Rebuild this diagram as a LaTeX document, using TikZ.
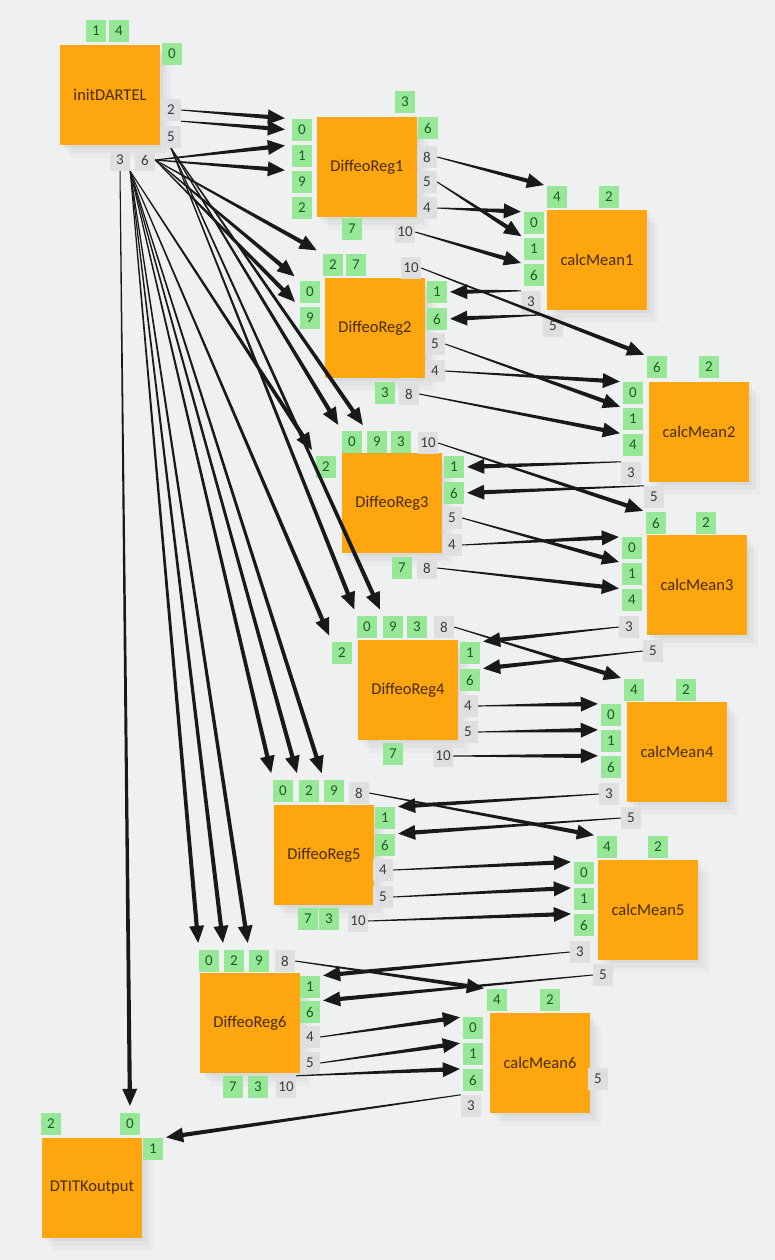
\documentclass[tikz,border=0pt]{standalone}
\usepackage{fontspec}
\setmainfont{Carlito}
\usetikzlibrary{calc,shadows}
\definecolor{modorange}{RGB}{253,166,15}
\definecolor{portgreen}{RGB}{150,232,150}
\definecolor{portgray}{RGB}{222,223,225}
\definecolor{bgcol}{RGB}{238,240,242}
\definecolor{modtext}{RGB}{72,44,0}
\definecolor{greentext}{RGB}{30,90,40}
\definecolor{graytext}{RGB}{60,60,60}
\begin{document}
\begin{tikzpicture}[x=1pt,y=-1pt,
  modbox/.style={fill=modorange,minimum size=100pt,inner sep=0pt,text=modtext,font=\fontsize{16.5}{18}\selectfont,
    drop shadow={shadow xshift=3pt,shadow yshift=-3pt,opacity=.08},
    drop shadow={shadow xshift=7pt,shadow yshift=-8pt,opacity=.07},
    drop shadow={shadow xshift=11pt,shadow yshift=-13pt,opacity=.05}},
  inport/.style={fill=portgreen,text=greentext,minimum width=20pt,minimum height=22pt,inner sep=0pt,font=\fontsize{15}{17}\selectfont},
  outport/.style={inport,fill=portgray,text=graytext},
  % tapered connector with its head, tip set back by #1
  wire/.style={fill=black!90,to path={let \p1=(\tikztostart),\p2=(\tikztotarget),\n1={atan2(\y2-\y1,\x2-\x1)},
      \p3=($(\p2)!#1!(\p1)$),\p4=($(\p3)!17pt!(\p1)$) in
      ([shift={(\n1+90:.5pt)}]\p1) -- ([shift={(\n1+90:2.1pt)}]\p4) -- ([shift={(\n1+90:7.5pt)}]\p4) -- (\p3)
      -- ([shift={(\n1-90:7.5pt)}]\p4) -- ([shift={(\n1-90:2.1pt)}]\p4) -- ([shift={(\n1-90:.5pt)}]\p1) -- cycle}},
  wire/.default=3pt,
  fan/.style={wire=7pt}]
\useasboundingbox (0,0) rectangle (775,1260);
\fill[bgcol] (0,0) rectangle (775,1260);
% modules
\node[modbox] (init) at (110,95) {initDARTEL};
\node[modbox] (dr1) at (367,167) {DiffeoReg1};
\node[modbox] (cm1) at (597,260) {calcMean1};
\node[modbox] (dr2) at (375,328) {DiffeoReg2};
\node[modbox] (cm2) at (699,432) {calcMean2};
\node[modbox] (dr3) at (392,503) {DiffeoReg3};
\node[modbox] (cm3) at (697,585) {calcMean3};
\node[modbox] (dr4) at (408,690) {DiffeoReg4};
\node[modbox] (cm4) at (677,752) {calcMean4};
\node[modbox] (dr5) at (324,855) {DiffeoReg5};
\node[modbox] (cm5) at (648,910) {calcMean5};
\node[modbox] (dr6) at (250,1023) {DiffeoReg6};
\node[modbox] (cm6) at (540,1063) {calcMean6};
\node[modbox] (dtitk) at (92,1188) {DTITKoutput};
% ports of initDARTEL
\node[inport] (i1) at (96,31) {1}; \node[inport] (i4) at (119,31) {4}; \node[inport] (i0) at (172,54) {0};
\node[outport] (i2) at (171,110) {2}; \node[outport] (i5) at (171,137) {5};
\node[outport] (i3) at (120,160) {3}; \node[outport] (i6) at (145,160) {6};
% ports of DiffeoReg1 and calcMean1
\node[inport] (d1p0) at (302,130) {0}; \node[inport] (d1p1) at (302,156) {1};
\node[inport] (d1p9) at (302,182) {9}; \node[inport] (d1p2) at (302,208) {2};
\node[inport] (d1p3) at (405,102) {3}; \node[inport] (d1p6) at (428,128) {6};
\node[outport] (d1p8) at (427,157) {8}; \node[outport] (d1p5) at (427,182) {5}; \node[outport] (d1p4) at (427,208) {4};
\node[inport] (d1p7) at (352,229) {7}; \node[outport] (d1p10) at (405,232) {10};
\node[inport] (c1p4) at (557,197) {4}; \node[inport] (c1p2) at (609,197) {2};
\node[inport] (c1p0) at (534,223) {0}; \node[inport] (c1p1) at (534,249) {1}; \node[inport] (c1p6) at (534,275) {6};
\node[outport] (c1p3) at (531,302) {3}; \node[outport] (c1p5) at (553,326) {5};
% ports of DiffeoReg2 and calcMean2
\node[inport] (d2p2) at (333,265) {2}; \node[inport] (d2p7) at (356,265) {7}; \node[outport] (d2p10) at (411,268) {10};
\node[inport] (d2p0) at (310,292) {0}; \node[inport] (d2p9) at (310,318) {9};
\node[inport] (d2p1) at (437,292) {1}; \node[inport] (d2p6) at (437,319) {6};
\node[outport] (d2p5) at (435,344) {5}; \node[outport] (d2p4) at (435,371) {4};
\node[inport] (d2p3) at (385,393) {3}; \node[outport] (d2p8) at (409,394) {8};
\node[inport] (c2p6) at (657,367) {6}; \node[inport] (c2p2) at (709,367) {2};
\node[inport] (c2p0) at (633,393) {0}; \node[inport] (c2p1) at (633,419) {1}; \node[inport] (c2p4) at (633,445) {4};
\node[outport] (c2p3) at (631,473) {3}; \node[outport] (c2p5) at (654,497) {5};
% ports of DiffeoReg3 and calcMean3
\node[inport] (d3p0) at (352,442) {0}; \node[inport] (d3p9) at (377,442) {9}; \node[inport] (d3p3) at (401,442) {3};
\node[outport] (d3p10) at (428,443) {10}; \node[inport] (d3p2) at (326,467) {2};
\node[inport] (d3p1) at (454,467) {1}; \node[inport] (d3p6) at (454,493) {6};
\node[outport] (d3p5) at (452,518) {5}; \node[outport] (d3p4) at (452,545) {4};
\node[inport] (d3p7) at (402,568) {7}; \node[outport] (d3p8) at (427,568) {8};
\node[inport] (c3p6) at (656,523) {6}; \node[inport] (c3p2) at (706,523) {2};
\node[inport] (c3p0) at (632,548) {0}; \node[inport] (c3p1) at (632,574) {1}; \node[inport] (c3p4) at (632,600) {4};
\node[outport] (c3p3) at (629,627) {3}; \node[outport] (c3p5) at (653,651) {5};
% ports of DiffeoReg4 and calcMean4
\node[inport] (d4p0) at (367,627) {0}; \node[inport] (d4p9) at (393,627) {9}; \node[inport] (d4p3) at (417,627) {3};
\node[outport] (d4p8) at (444,627) {8}; \node[inport] (d4p2) at (342,653) {2};
\node[inport] (d4p1) at (470,653) {1}; \node[inport] (d4p6) at (470,680) {6};
\node[outport] (d4p4) at (468,706) {4}; \node[outport] (d4p5) at (468,732) {5};
\node[inport] (d4p7) at (393,754) {7}; \node[outport] (d4p10) at (443,756) {10};
\node[inport] (c4p4) at (634,690) {4}; \node[inport] (c4p2) at (686,690) {2};
\node[inport] (c4p0) at (611,715) {0}; \node[inport] (c4p1) at (611,741) {1}; \node[inport] (c4p6) at (611,767) {6};
\node[outport] (c4p3) at (609,794) {3}; \node[outport] (c4p5) at (631,818) {5};
% ports of DiffeoReg5 and calcMean5
\node[inport] (d5p0) at (283,791) {0}; \node[inport] (d5p2) at (309,791) {2}; \node[inport] (d5p9) at (334,791) {9};
\node[outport] (d5p8) at (359,793) {8};
\node[inport] (d5p1) at (385,818) {1}; \node[inport] (d5p6) at (385,845) {6};
\node[outport] (d5p4) at (383,870) {4}; \node[outport] (d5p5) at (383,897) {5};
\node[inport] (d5p7) at (308,919) {7}; \node[inport] (d5p3) at (329,919) {3}; \node[outport] (d5p10) at (358,921) {10};
\node[inport] (c5p4) at (607,847) {4}; \node[inport] (c5p2) at (658,847) {2};
\node[inport] (c5p0) at (584,873) {0}; \node[inport] (c5p1) at (584,899) {1}; \node[inport] (c5p6) at (584,925) {6};
\node[outport] (c5p3) at (580,952) {3}; \node[outport] (c5p5) at (603,975) {5};
% ports of DiffeoReg6 and calcMean6
\node[inport] (d6p0) at (209,961) {0}; \node[inport] (d6p2) at (234,961) {2}; \node[inport] (d6p9) at (259,961) {9};
\node[outport] (d6p8) at (285,961) {8};
\node[inport] (d6p1) at (310,987) {1}; \node[inport] (d6p6) at (310,1012) {6};
\node[outport] (d6p4) at (310,1037) {4}; \node[outport] (d6p5) at (310,1063) {5};
\node[inport] (d6p7) at (233,1087) {7}; \node[inport] (d6p3) at (258,1087) {3}; \node[outport] (d6p10) at (286,1087) {10};
\node[inport] (c6p4) at (497,1000) {4}; \node[inport] (c6p2) at (550,1000) {2};
\node[inport] (c6p0) at (473,1028) {0}; \node[inport] (c6p1) at (473,1054) {1}; \node[inport] (c6p6) at (473,1080) {6};
\node[outport] (c6p3) at (471,1106) {3}; \node[outport] (c6p5) at (598,1079) {5};
% ports of DTITKoutput
\node[inport] (dtp2) at (51,1124) {2}; \node[inport] (dtp0) at (130,1124) {0}; \node[inport] (dtp1) at (153,1149) {1};
% initDARTEL fan
\path[fan] (i2.east) to (d1p0.north west); \path[fan] (i2.south east) to (d1p0.west);
\foreach \t in {d1p1,d1p9,d2p2,d2p0,d2p9}{\path[fan] (i6.east) to (\t.north west);}
\foreach \t in {d3p0,d3p9,d4p0,d4p9}{\path[fan] (i5.south) to (\t.north west);}
\foreach \t in {d3p2,d4p2,d5p0,d5p2,d5p9,d6p0,d6p2,d6p9}{\path[fan] (i3.south east) to (\t.north west);}
\path[fan] (i3.south) to (dtp0.north);
% DiffeoReg -> calcMean
\path[wire] (d1p8.east) to (c1p4.north west); \path[wire] (d1p4.east) to (c1p0.north west);
\path[wire] (d1p5.east) to (c1p1.north west); \path[wire] (d1p10.east) to (c1p6.north west);
\path[wire] (d2p10.east) to (c2p6.north west); \path[wire] (d2p4.east) to (c2p0.north west);
\path[wire] (d2p5.east) to (c2p1.north west); \path[wire] (d2p8.east) to (c2p4.north west);
\path[wire] (d3p10.east) to (c3p6.north west); \path[wire] (d3p4.east) to (c3p0.north west);
\path[wire] (d3p5.east) to (c3p1.north west); \path[wire] (d3p8.east) to (c3p4.north west);
\path[wire] (d4p8.east) to (c4p4.north west); \path[wire] (d4p4.east) to (c4p0.north west);
\path[wire] (d4p5.east) to (c4p1.north west); \path[wire] (d4p10.east) to (c4p6.north west);
\path[wire] (d5p8.east) to (c5p4.north west); \path[wire] (d5p4.east) to (c5p0.north west);
\path[wire] (d5p5.east) to (c5p1.north west); \path[wire] (d5p10.east) to (c5p6.north west);
\path[wire] (d6p8.east) to (c6p4.north west); \path[wire] (d6p4.east) to (c6p0.north west);
\path[wire] (d6p5.east) to (c6p1.north west); \path[wire] (d6p10.north east) to (c6p6.north west);
% calcMean -> next DiffeoReg
\path[wire] (c1p3.north west) to (d2p1.east); \path[wire] (c1p5.north west) to (d2p6.east);
\path[wire] (c2p3.north west) to (d3p1.east); \path[wire] (c2p5.north west) to (d3p6.east);
\path[wire] (c3p3.west) to (d4p1.north east); \path[wire] (c3p5.west) to (d4p6.north east);
\path[wire] (c4p3.west) to (d5p1.north east); \path[wire] (c4p5.west) to (d5p6.north east);
\path[wire] (c5p3.west) to (d6p1.north east); \path[wire] (c5p5.west) to (d6p6.north east);
\path[wire] (c6p3.north west) to (dtp1.north east);
\end{tikzpicture}
\end{document}
